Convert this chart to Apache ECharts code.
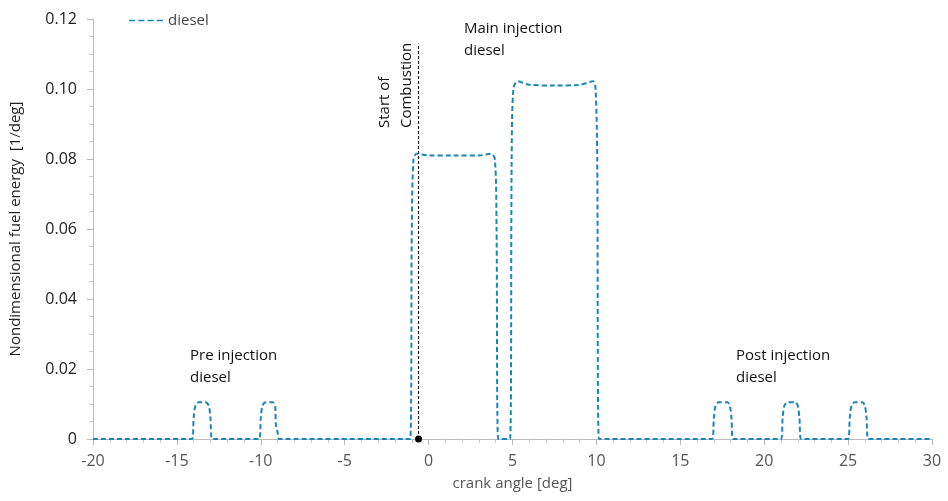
<!DOCTYPE html>
<html><head><meta charset="utf-8">
<script src="https://cdn.jsdelivr.net/npm/echarts@6/dist/echarts.min.js"></script>
<style>html,body{margin:0;padding:0;background:#fff}#c{width:948px;height:501px}</style>
</head><body><div id="c"></div>
<script>
const crankAngle = [-20,-14.1,-14.0,-13.9,-13.7,-13.3,-13.1,-13.0,-12.9,-10.1,-10.0,-9.9,-9.7,-9.3,-9.15,-9.1,-9.0,-8.9,
 -1.1,-1.0,-0.9,-0.7,0.0,1.5,3.0,3.7,3.95,4.05,4.15,4.85,4.95,5.05,5.3,6.0,7.5,9.0,9.8,9.95,10.05,10.15,
 16.9,17.0,17.1,17.3,17.8,17.95,18.05,18.15,21.0,21.1,21.2,21.4,21.85,22.0,22.1,22.2,25.0,25.1,25.2,25.4,25.85,26.0,26.1,26.2,30];
const fuelEnergy = [0,0,0.006,0.0095,0.0105,0.0105,0.0095,0.006,0,0,0.006,0.0095,0.0105,0.0105,0.0095,0.004,0.002,0,
 0,0.06,0.08,0.0815,0.081,0.081,0.081,0.0815,0.08,0.06,0,0,0.08,0.1,0.1022,0.1012,0.101,0.1012,0.1022,0.1,0.08,0,
 0,0.006,0.0095,0.0105,0.0105,0.0095,0.006,0,0,0.006,0.0095,0.0105,0.0105,0.0095,0.006,0,0,0.006,0.0095,0.0105,0.0105,0.0095,0.006,0,0];
const startOfCombustion = -0.6;

const chart = echarts.init(document.getElementById('c'));
const font = 'Open Sans, Noto Sans, sans-serif';
chart.setOption({
  animation:false,
  grid:{left:92,right:16,top:19,bottom:62},
  legend:{left:124,top:8,itemWidth:34,textStyle:{color:'#444',fontSize:15,fontFamily:font},
    data:[{name:'diesel',icon:'path://M0,0h4v1h-4z M6,0h4v1h-4z M12,0h4v1h-4z M18,0h4v1h-4z'}]},
  xAxis:{type:'value',min:-20,max:30,interval:5,
    name:'crank angle [deg]',nameLocation:'middle',nameGap:37,
    nameTextStyle:{color:'#555',fontSize:15,fontFamily:font},
    axisLine:{onZero:false,lineStyle:{color:'#bbb'}},axisTick:{show:true,length:6,lineStyle:{color:'#bbb'}},
    minorTick:{show:true,splitNumber:5,length:4,lineStyle:{color:'#ccc'}},
    splitLine:{show:false},axisLabel:{color:'#555',fontSize:16,fontFamily:font,margin:14}},
  yAxis:{type:'value',min:0,max:0.12,interval:0.02,
    name:'Nondimensional fuel energy  [1/deg]',nameLocation:'middle',nameGap:70,
    nameTextStyle:{color:'#222',fontSize:15,fontFamily:font},
    axisLine:{show:true,onZero:false,lineStyle:{color:'#bbb'}},axisTick:{show:true,length:6,lineStyle:{color:'#bbb'}},
    minorTick:{show:true,splitNumber:4,length:4,lineStyle:{color:'#ccc'}},
    splitLine:{show:false},axisLabel:{color:'#222',fontSize:16,fontFamily:font,margin:16,
      formatter:v=>v===0?'0':v.toFixed(2)}},
  series:[
   {name:'diesel',type:'line',smooth:0.3,showSymbol:false,
    lineStyle:{color:'#1a86b4',width:2,type:[5,3]},itemStyle:{color:'#1a86b4'},
    data:crankAngle.map((x,i)=>[x,fuelEnergy[i]])},
   {name:'soc',type:'line',showSymbol:true,symbol:'circle',symbolSize:7,
    lineStyle:{color:'#222',width:1.2,type:[3,2]},itemStyle:{color:'#000'},
    data:[[startOfCombustion,0],{value:[startOfCombustion,0.113],symbol:'none'}]}
  ],
  graphic:[
   {type:'text',left:190,top:345,style:{text:'Pre injection\ndiesel',fill:'#111',font:'15px '+font,lineHeight:22}},
   {type:'text',left:464,top:18,style:{text:'Main injection\ndiesel',fill:'#111',font:'15px '+font,lineHeight:22}},
   {type:'text',left:736,top:345,style:{text:'Post injection\ndiesel',fill:'#111',font:'15px '+font,lineHeight:22}},
   {type:'text',x:374,y:128,rotation:Math.PI/2,style:{text:'Start of\nCombustion',fill:'#111',font:'15px '+font,lineHeight:22,align:'left',verticalAlign:'top'}}
  ]
});
</script></body></html>
